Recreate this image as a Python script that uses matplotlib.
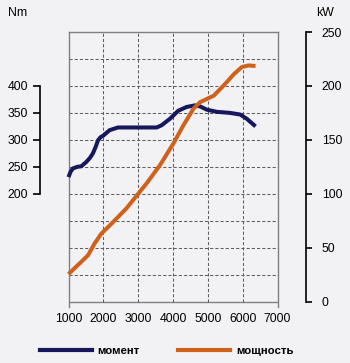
import matplotlib
matplotlib.use("Agg")
import matplotlib.pyplot as plt
from matplotlib.lines import Line2D

# ---- data ----
torque_rpm = [1000, 1060, 1125, 1250, 1365, 1510, 1620, 1700, 1780, 1845, 1920, 2000, 2180,
              2420, 2660, 3000, 3300, 3530, 3670, 3910, 4150, 4390, 4630, 4780, 4970,
              5260, 5640, 5930, 6120, 6370]
torque_nm = [231, 241, 247, 250, 251, 259, 267, 275, 287, 299, 305, 308, 318,
             323, 323, 323, 323, 323, 327, 339, 354, 361, 364, 362, 356,
             352, 350, 347, 339, 325]

power_rpm = [1000, 1270, 1560, 1750, 1940, 2240, 2660, 3240, 3625, 4010, 4300, 4590,
             4780, 5170, 5460, 5750, 5980, 6170, 6370]
power_kw = [25.6, 34, 43, 54, 63, 72.5, 86.4, 109.6, 126.5, 146.6, 163.6, 179,
            185, 191, 200.6, 211, 217.6, 219, 218.5]

x_ticks = [1000, 2000, 3000, 4000, 5000, 6000, 7000]
nm_ticks = [200, 250, 300, 350, 400]
kw_ticks = [0, 50, 100, 150, 200, 250]
series_names = ["момент", "мощность"]

# ---- style ----
BG = "#f2f2f4"
NAVY = "#17175c"
ORANGE = "#d0611c"
FRAME = "#808080"
GRID = "#5e5e5e"
plt.rcParams["font.family"] = ["Liberation Sans", "DejaVu Sans"]
FS = 8.8

W, H = 350, 363
fig = plt.figure(figsize=(W / 100, H / 100), dpi=100, facecolor=BG)

L, R, T, B = 68.5, 277.5, 32.0, 307.0
ax = fig.add_axes([L / W, 1 - B / H, (R - L) / W, (B - T) / H])
ax.set_facecolor(BG)
kw_bottom = -(B - 301.7) / (301.7 - 31.7) * 250
ax.set_xlim(1000, 7000)
ax.set_ylim(kw_bottom, 250)

for s in ["top", "left", "right"]:
    ax.spines[s].set_color(FRAME)
    ax.spines[s].set_linewidth(1.0)
ax.spines["bottom"].set_visible(False)
ax.axhline(0, color=FRAME, lw=1.0, zorder=1)

# grid
ax.vlines(x_ticks[1:-1], 0, 250, colors=GRID, linestyles=(0, (3, 2)), lw=0.75, zorder=1)
ax.hlines([25 * i for i in range(1, 10)], 1000, 7000, colors=GRID,
          linestyles=(0, (3, 2)), lw=0.75, zorder=1)

ax.set_xticks(x_ticks)
ax.set_xticklabels([str(v) for v in x_ticks], fontsize=FS)
ax.tick_params(axis="x", length=0, pad=4.5)
ax.set_yticks([])

# Nm axis on left
ax_nm = ax.twinx()
ax_nm.set_ylim(kw_bottom * 2, 500)
ax_nm.yaxis.set_ticks_position("left")
ax_nm.yaxis.set_label_position("left")
for s in ["top", "right", "bottom"]:
    ax_nm.spines[s].set_visible(False)
ax_nm.spines["left"].set_position(("axes", (40 - L) / (R - L)))
ax_nm.spines["left"].set_bounds(200, 400)
ax_nm.spines["left"].set_linewidth(1.2)
ax_nm.set_yticks(nm_ticks)
ax_nm.set_yticklabels([str(v) for v in nm_ticks], fontsize=FS)
ax_nm.tick_params(axis="y", length=5, width=1.2, pad=3.5, direction="out")

# kW axis on right
ax_kw = ax.twinx()
ax_kw.set_ylim(kw_bottom, 250)
for s in ["top", "left", "bottom"]:
    ax_kw.spines[s].set_visible(False)
ax_kw.spines["right"].set_position(("axes", (305.8 - L) / (R - L)))
ax_kw.spines["right"].set_bounds(0, 250)
ax_kw.spines["right"].set_linewidth(1.2)
ax_kw.set_yticks(kw_ticks)
ax_kw.set_yticklabels([str(v) for v in kw_ticks], fontsize=FS)
ax_kw.tick_params(axis="y", length=4.5, width=1.2, pad=7, direction="out")

# curves
ax_kw.plot(power_rpm, power_kw, color=ORANGE, lw=2.9, solid_capstyle="butt",
           solid_joinstyle="round", zorder=3, clip_on=False)
ax_nm.plot(torque_rpm, torque_nm, color=NAVY, lw=2.9, solid_capstyle="butt",
           solid_joinstyle="round", zorder=4, clip_on=False)

# unit labels
fig.text(8 / W, 1 - 12.5 / H, "Nm", fontsize=FS, va="center", ha="left")
fig.text(316 / W, 1 - 12.5 / H, "kW", fontsize=FS, va="center", ha="left")

# legend
handles = [Line2D([], [], color=NAVY, lw=3), Line2D([], [], color=ORANGE, lw=3)]
leg = fig.legend(handles, series_names, loc="center left",
                 bbox_to_anchor=(40 / W, 1 - 350.7 / H), ncol=2, frameon=False,
                 handlelength=4.55, handletextpad=0.5, columnspacing=3.4,
                 prop={"size": 8.2, "weight": "bold"}, borderaxespad=0, borderpad=0)

fig.savefig("out.png", dpi=100, facecolor=BG)
